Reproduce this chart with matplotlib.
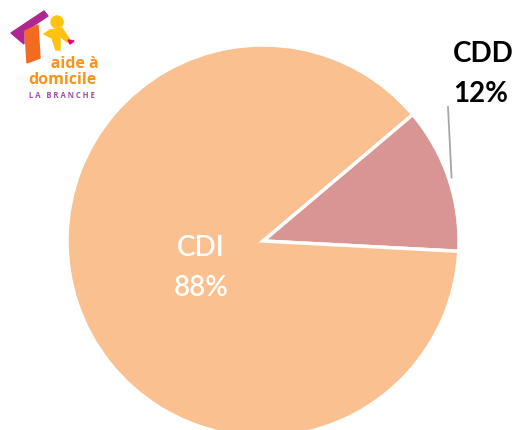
import numpy as np
import matplotlib
matplotlib.use('Agg')
import matplotlib.pyplot as plt
from matplotlib.patches import Polygon, Circle

# data
labels = ['CDD', 'CDI']
values = [12, 88]
colors = ['#D99594', '#FAC08F']
explode = [0.04, 0]

plt.rcParams['font.family'] = ['Lato', 'DejaVu Sans']

fig = plt.figure(figsize=(5.2, 4.3), dpi=100)
ax = fig.add_axes([0, 0, 1, 1])
ax.set_xlim(0, 520)
ax.set_ylim(0, 430)
ax.set_aspect('equal')
ax.axis('off')

# pie in pixel coords (y measured from the bottom)
cx, cy, r = 263, 189, 196
start = -3
wedges, _ = ax.pie(values, colors=colors, explode=explode, startangle=start,
                   center=(cx, cy), radius=r, counterclock=True,
                   wedgeprops=dict(edgecolor='white', linewidth=2.5))
ax.set_xlim(0, 520)
ax.set_ylim(0, 430)

# CDI label inside
ax.text(201, 162, 'CDI\n88%', color='white', fontsize=20, ha='center',
        va='center', linespacing=1.7, fontweight='semibold')

# CDD label outside with leader line
mid = np.deg2rad(start + values[0] / sum(values) * 360 / 2)
off = explode[0] * r
x0 = cx + (off + r * 0.975) * np.cos(mid)
y0 = cy + (off + r * 0.975) * np.sin(mid)
ax.plot([x0, 448], [y0, 323], color='#A6A6A6', lw=1.3)
ax.text(453, 356, 'CDD\n12%', color='black', fontsize=20, ha='left',
        va='center', linespacing=1.62, fontweight='bold')

# logo, top left
roof = Polygon([(11, 430 - 33), (44, 430 - 11), (48, 430 - 16), (24, 430 - 32),
                (24, 430 - 44)], closed=True, color='#B0258F')
ax.add_patch(roof)
wall = Polygon([(25, 430 - 31), (38, 430 - 25), (40, 430 - 58), (27, 430 - 63)],
               closed=True, color='#F26B21')
ax.add_patch(wall)
ax.add_patch(Circle((57, 430 - 22), 6, color='#FFC20E'))
body = Polygon([(50, 430 - 30), (62, 430 - 28), (70, 430 - 40), (67, 430 - 42),
                (60, 430 - 36), (60, 430 - 50), (56, 430 - 50), (52, 430 - 38),
                (44, 430 - 34)], closed=True, color='#FFC20E')
ax.add_patch(body)
ax.add_patch(Polygon([(68, 430 - 40), (74, 430 - 41), (70, 430 - 44)],
                     closed=True, color='#E6007E'))
# logo text as one block so the lines keep their tight spacing
ax.text(62, 430 - 72, '      aide à\ndomicile', color='#F7941D', fontsize=11.5,
        ha='center', va='center', fontweight='bold', linespacing=0.95,
        family=['Open Sans', 'DejaVu Sans'])
ax.text(62, 430 - 95, 'L A   B R A N C H E', color='#9B4F9E', fontsize=5.5,
        ha='center', va='center', fontweight='bold',
        family=['Open Sans', 'DejaVu Sans'])

fig.savefig('out.png', dpi=100)
